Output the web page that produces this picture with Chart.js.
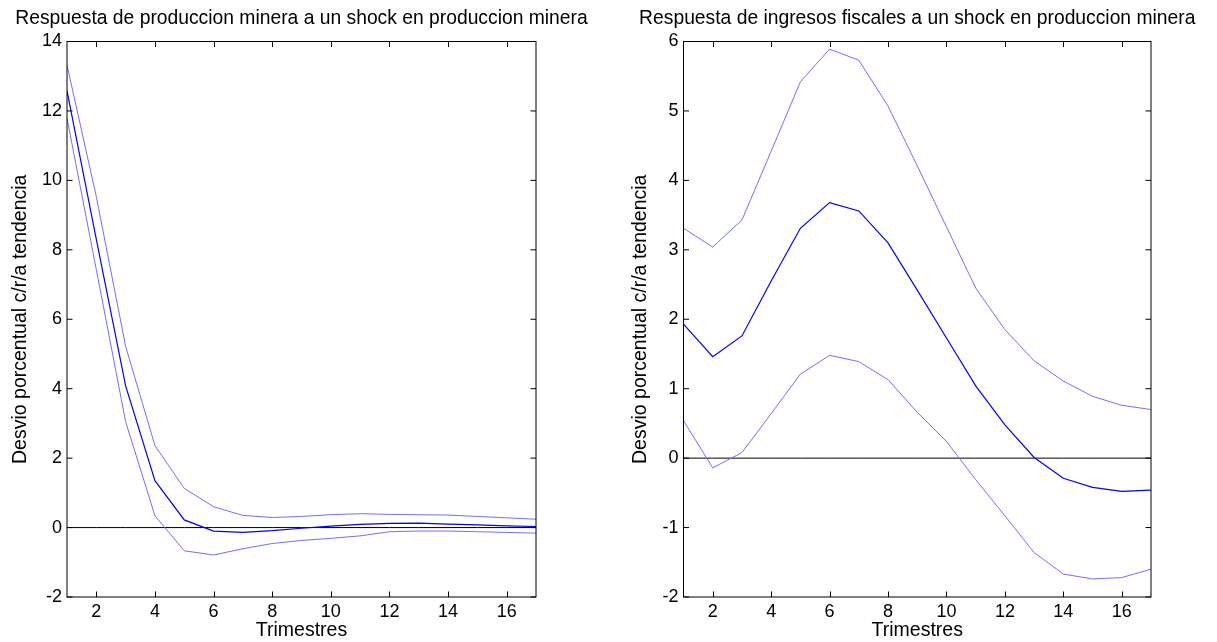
<!DOCTYPE html>
<html lang="es">
<head>
<meta charset="UTF-8">
<title>Respuestas a un shock en produccion minera</title>
<script src="https://cdn.jsdelivr.net/npm/chart.js"></script>
<style>
  body { margin: 0; background: #ffffff; }
  #wrap { position: relative; width: 1217px; height: 642px; }
  canvas { position: absolute; top: 0; }
  #izq { left: 0; }
  #der { left: 608px; }
</style>
</head>
<body>

<div id="wrap">
  <canvas id="izq" width="608" height="642"></canvas>
  <canvas id="der" width="609" height="642"></canvas>
</div>

<script>
// horizonte de la respuesta (trimestres)
const trimestres = [1, 2, 3, 4, 5, 6, 7, 8, 9, 10, 11, 12, 13, 14, 15, 16, 17];
const xTicks = [2, 4, 6, 8, 10, 12, 14, 16];
const ceros = [0, 0, 0, 0, 0, 0, 0, 0, 0, 0, 0, 0, 0, 0, 0, 0, 0];

// respuesta de produccion minera
const prodMedia = [12.58, 8.3, 4.08, 1.35, 0.22, -0.1, -0.14, -0.09, -0.02, 0.04, 0.09, 0.12, 0.13, 0.1, 0.08, 0.05, 0.03];
const prodSup   = [13.32, 9.53, 5.22, 2.36, 1.13, 0.6, 0.35, 0.29, 0.32, 0.37, 0.4, 0.38, 0.37, 0.36, 0.32, 0.28, 0.24];
const prodInf   = [11.79, 7.43, 3.05, 0.34, -0.67, -0.79, -0.61, -0.46, -0.37, -0.31, -0.24, -0.12, -0.1, -0.1, -0.12, -0.14, -0.16];
const prodYTicks = [-2, 0, 2, 4, 6, 8, 10, 12, 14];

// respuesta de ingresos fiscales
const fiscMedia = [1.93, 1.46, 1.76, 2.55, 3.31, 3.68, 3.56, 3.1, 2.42, 1.73, 1.04, 0.48, 0.01, -0.29, -0.42, -0.48, -0.46];
const fiscSup   = [3.31, 3.04, 3.43, 4.42, 5.42, 5.89, 5.73, 5.07, 4.21, 3.33, 2.45, 1.85, 1.4, 1.11, 0.89, 0.76, 0.7];
const fiscInf   = [0.54, -0.14, 0.08, 0.64, 1.21, 1.48, 1.39, 1.13, 0.66, 0.24, -0.31, -0.83, -1.36, -1.67, -1.74, -1.72, -1.6];
const fiscYTicks = [-2, -1, 0, 1, 2, 3, 4, 5, 6];

const FUENTE = '"Liberation Sans", Arial, Helvetica, sans-serif';
const AZUL = '#0000ff';
const AZUL_BANDA = '#7070ff';

function puntos(serie) {
  return serie.map((v, i) => ({ x: trimestres[i], y: v }));
}

// marco cerrado con marcas hacia adentro en los cuatro lados, y el titulo arriba
function marcoPlugin(titulo) {
  return {
    id: 'marco',
    afterDatasetsDraw(chart) {
      const { ctx, chartArea: a, scales: { x, y } } = chart;
      const largo = 5.5;
      ctx.save();
      ctx.strokeStyle = '#000';
      ctx.lineWidth = 1;
      ctx.beginPath();
      xTicks.forEach(v => {
        const px = Math.round(x.getPixelForValue(v)) + 0.5;
        ctx.moveTo(px, a.bottom); ctx.lineTo(px, a.bottom - largo);
        ctx.moveTo(px, a.top); ctx.lineTo(px, a.top + largo);
      });
      y.ticks.forEach(t => {
        const py = y.getPixelForValue(t.value);
        ctx.moveTo(a.left, py); ctx.lineTo(a.left + largo, py);
        ctx.moveTo(a.right, py); ctx.lineTo(a.right - largo, py);
      });
      ctx.stroke();
      ctx.strokeRect(a.left, a.top, a.right - a.left, a.bottom - a.top);
      ctx.restore();
    },
    afterDraw(chart) {
      const { ctx, chartArea: a } = chart;
      ctx.save();
      ctx.fillStyle = '#000';
      ctx.font = '19.3px ' + FUENTE;
      ctx.textAlign = 'center';
      ctx.textBaseline = 'alphabetic';
      ctx.fillText(titulo, (a.left + a.right) / 2, 24);
      ctx.restore();
    }
  };
}

function graficoIRF(id, titulo, media, sup, inf, yTicks, caja) {
  return new Chart(document.getElementById(id), {
    type: 'line',
    data: {
      datasets: [
        { data: puntos(media), borderColor: AZUL, borderWidth: 1.2 },
        { data: puntos(sup), borderColor: AZUL_BANDA, borderWidth: 1 },
        { data: puntos(inf), borderColor: AZUL_BANDA, borderWidth: 1 },
        { data: puntos(ceros), borderColor: '#000', borderWidth: 1 }
      ]
    },
    options: {
      responsive: false,
      animation: false,
      devicePixelRatio: 1,
      layout: { padding: { left: 0, top: 41.5, right: caja.derecha, bottom: 0 } },
      elements: { point: { radius: 0 }, line: { tension: 0 } },
      plugins: { legend: { display: false }, tooltip: { enabled: false } },
      scales: {
        x: {
          type: 'linear',
          min: 1,
          max: 17,
          afterBuildTicks: s => { s.ticks = xTicks.map(v => ({ value: v })); },
          afterFit: s => { s.height = 45; },
          grid: { display: false, drawTicks: false },
          border: { display: false },
          ticks: { color: '#000', font: { family: FUENTE, size: 18 }, padding: 4, maxRotation: 0, autoSkip: false },
          title: {
            display: true, text: 'Trimestres', color: '#000',
            font: { family: FUENTE, size: 19.5 }, padding: { top: 0, bottom: 0 }
          }
        },
        y: {
          min: yTicks[0],
          max: yTicks[yTicks.length - 1],
          afterBuildTicks: s => { s.ticks = yTicks.map(v => ({ value: v })); },
          afterFit: s => { s.width = caja.ancho; },
          grid: { display: false, drawTicks: false },
          border: { display: false },
          ticks: { color: '#000', font: { family: FUENTE, size: 18 }, padding: 5 },
          title: {
            display: true, text: 'Desvio porcentual c/r/a tendencia', color: '#000',
            font: { family: FUENTE, size: 19.5 }, padding: { top: caja.tituloY, bottom: 0 }
          }
        }
      }
    },
    plugins: [marcoPlugin(titulo)]
  });
}

graficoIRF('izq', 'Respuesta de produccion minera a un shock en produccion minera',
  prodMedia, prodSup, prodInf, prodYTicks, { ancho: 67, derecha: 72, tituloY: 9.3 });

graficoIRF('der', 'Respuesta de ingresos fiscales a un shock en produccion minera',
  fiscMedia, fiscSup, fiscInf, fiscYTicks, { ancho: 75.5, derecha: 66, tituloY: 21.3 });
</script>

</body>
</html>
